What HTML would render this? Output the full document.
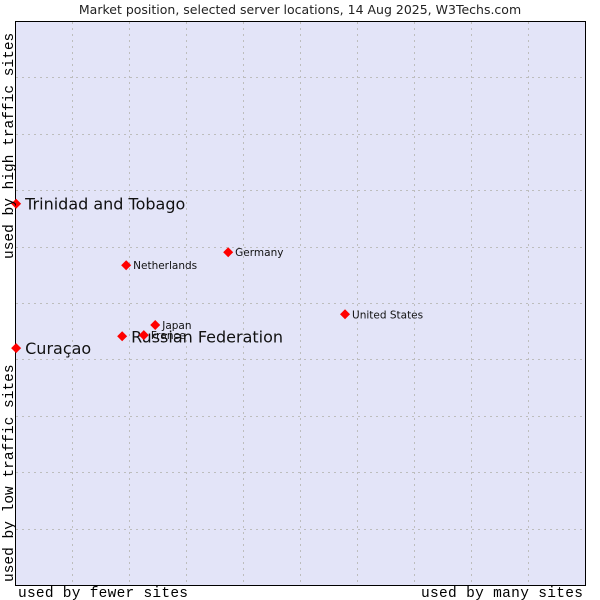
<!DOCTYPE html>
<html><head><meta charset="utf-8"><style>
body{margin:0;background:#fff;width:600px;height:600px;overflow:hidden}
svg{display:block}
</style></head><body>
<svg width="600" height="600">
<text x="300" y="14" text-anchor="middle" font-family="DejaVu Sans, sans-serif" font-size="12.5" fill="#222">Market position, selected server locations, 14 Aug 2025, W3Techs.com</text>
<rect x="15.5" y="21.5" width="570" height="564" fill="#e3e4f8" stroke="#000"/>
<g id="grid"></g>
<g id="marks"></g>
<text x="18" y="597" font-family="Liberation Mono, DejaVu Sans Mono, monospace" font-size="14.5" textLength="170" fill="#000">used by fewer sites</text>
<text x="583" y="597" text-anchor="end" font-family="Liberation Mono, DejaVu Sans Mono, monospace" font-size="14.5" textLength="162" fill="#000">used by many sites</text>
<text transform="translate(13,582) rotate(-90)" font-family="Liberation Mono, DejaVu Sans Mono, monospace" font-size="14.5" fill="#000">used by low traffic sites</text>
<text transform="translate(13,259) rotate(-90)" font-family="Liberation Mono, DejaVu Sans Mono, monospace" font-size="14.5" fill="#000">used by high traffic sites</text>
</svg>
<script>
const names=["Trinidad and Tobago","Curaçao","Russian Federation","France","Japan","Netherlands","Germany","United States"];
const xVals=[0.2,0.2,18.8,22.6,24.6,19.5,37.4,57.9];
const yVals=[67.6,42.0,44.1,44.3,46.1,56.7,59.0,48.0];
const bigLabel=[true,true,true,false,false,false,false,false];
const L=15,T=21,W=570,H=564;
const sx=v=>L+v/100*W, sy=v=>T+H-v/100*H;
const ns="http://www.w3.org/2000/svg";
const grid=document.getElementById('grid');
for(let i=1;i<10;i++){
  const a=document.createElementNS(ns,'line');
  
  
  const x=Math.round(sx(i*10))+0.5;
  a.setAttribute('x1',x);a.setAttribute('x2',x);a.setAttribute('y1',T+1);a.setAttribute('y2',T+H);
  a.setAttribute('stroke','#bdbdbd');a.setAttribute('stroke-dasharray','2,4');grid.appendChild(a);
  const b=document.createElementNS(ns,'line');
  
  
  const y=Math.round(sy(i*10))+0.5;
  b.setAttribute('x1',L+1);b.setAttribute('x2',L+W);b.setAttribute('y1',y);b.setAttribute('y2',y);
  b.setAttribute('stroke','#bdbdbd');b.setAttribute('stroke-dasharray','2,4');grid.appendChild(b);
}
const marks=document.getElementById('marks');
names.forEach((n,i)=>{
  const x=sx(xVals[i]),y=sy(yVals[i]);
  const d=document.createElementNS(ns,'polygon');
  
  
  d.setAttribute('points',`${x},${y-5} ${x+5},${y} ${x},${y+5} ${x-5},${y}`);
  d.setAttribute('fill','#ff0000');marks.appendChild(d);
  const t=document.createElementNS(ns,'text');
  
  
  t.setAttribute('x',x+(bigLabel[i]?9:7));t.setAttribute('y',y+(bigLabel[i]?6:4));
  t.setAttribute('font-family','DejaVu Sans, sans-serif');
  t.setAttribute('font-size',bigLabel[i]?'16':'10.5');t.setAttribute('fill','#111');
  t.textContent=n;marks.appendChild(t);
});
</script>
</body></html>
